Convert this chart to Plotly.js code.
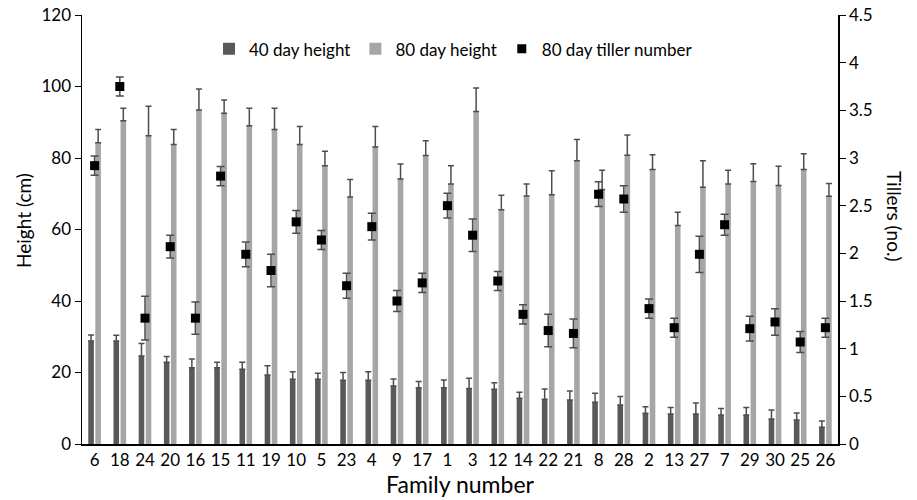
<!DOCTYPE html>
<html>
<head>
<meta charset="utf-8">
<script src="https://cdn.plot.ly/plotly-3.0.1.min.js"></script>
<style>html,body{margin:0;padding:0;background:#fff;}#chart{width:917px;height:500px;}</style>
</head>
<body>
<div id="chart"></div>
<script>
const families = ["6","18","24","20","16","15","11","19","10","5","23","4","9","17","1","3","12","14","22","21","8","28","2","13","27","7","29","30","25","26"];
const height40 = [28.8,28.8,24.6,22.9,21.3,21.3,20.9,19.3,18.1,18.1,17.8,17.8,16.2,15.7,15.7,15.5,15.3,12.8,12.5,12.3,11.7,10.9,8.6,8.4,8.4,8.1,8.1,7.0,6.7,4.7];
const height40Err = [1.7,1.6,3.5,1.6,2.5,1.6,2.0,2.6,2.1,1.7,2.2,2.4,2.0,1.8,2.2,2.9,1.8,1.7,2.9,2.5,2.5,2.4,1.8,1.8,3.1,1.8,2.1,2.5,2.0,1.7];
const height80 = [84.3,90.4,86.2,83.8,93.4,92.5,89.0,88.0,83.8,77.8,69.1,83.1,74.1,80.7,72.7,93.0,65.5,69.4,69.7,79.2,71.2,80.8,76.8,61.1,71.8,72.7,73.4,72.3,76.8,69.3];
const height80Err = [3.7,3.5,8.3,4.2,5.9,3.7,4.9,5.9,5.0,4.1,4.9,5.7,4.2,4.1,5.1,6.6,4.1,3.3,6.7,6.0,5.4,5.6,4.1,3.7,7.4,3.9,5.0,5.4,4.4,3.6];
const tillers = [2.92,3.75,1.32,2.07,1.32,2.81,1.99,1.82,2.33,2.14,1.66,2.28,1.50,1.69,2.50,2.19,1.71,1.36,1.19,1.16,2.62,2.57,1.42,1.22,1.99,2.30,1.21,1.28,1.07,1.22];
const tillersErr = [0.10,0.10,0.23,0.12,0.17,0.10,0.13,0.17,0.12,0.10,0.13,0.14,0.11,0.10,0.13,0.17,0.10,0.10,0.17,0.15,0.13,0.14,0.10,0.10,0.19,0.11,0.13,0.14,0.11,0.10];
const leftTicks = [0,20,40,60,80,100,120];
const rightTicks = [0,0.5,1,1.5,2,2.5,3,3.5,4,4.5];

const FONT = "Lato, 'Open Sans', sans-serif";
const zeros = families.map(() => 0);

const traces = [
  {
    type: 'bar', name: '40 day height', x: families, y: height40,
    marker: {color: '#595959'},
    error_y: {type: 'data', array: height40Err, arrayminus: zeros, symmetric: false, color: '#4d4d4d', thickness: 1.5, width: 3}
  },
  {
    type: 'bar', name: '80 day height', x: families, y: height80,
    marker: {color: '#a6a6a6'},
    error_y: {type: 'data', array: height80Err, arrayminus: zeros, symmetric: false, color: '#4d4d4d', thickness: 1.5, width: 3}
  },
  {
    type: 'scatter', mode: 'markers', name: '80 day tiller number', x: families, y: tillers, yaxis: 'y2',
    marker: {symbol: 'square', size: 9, color: '#000000'},
    error_y: {type: 'data', array: tillersErr, color: '#4d4d4d', thickness: 1.5, width: 4}
  }
];

const layout = {
  width: 917, height: 500,
  margin: {l: 82, r: 79, t: 15, b: 56},
  paper_bgcolor: '#fff', plot_bgcolor: '#fff',
  font: {family: FONT, size: 16, color: '#000'},
  barmode: 'group', bargap: 0.44, bargroupgap: 0.21,
  showlegend: true,
  legend: {orientation: 'h', x: 0.168, xanchor: 'left', y: 0.92, yanchor: 'middle', font: {family: FONT, size: 17, color: '#000'}, bgcolor: 'rgba(0,0,0,0)', traceorder: 'normal'},
  xaxis: {
    type: 'category', categoryorder: 'array', categoryarray: families,
    range: [-0.5, families.length - 0.5],
    showline: true, linecolor: '#000', linewidth: 1.5, ticks: '', showgrid: false, zeroline: false,
    tickfont: {family: FONT, size: 17, color: '#000'},
    title: {text: 'Family number', font: {family: FONT, size: 23, color: '#000'}, standoff: 6}
  },
  yaxis: {
    range: [0, 120], tickvals: leftTicks, ticktext: leftTicks.map(String),
    showline: true, linecolor: '#000', linewidth: 1.5, ticks: 'outside', ticklen: 6, tickcolor: '#000',
    showgrid: false, zeroline: false,
    tickfont: {family: FONT, size: 17, color: '#000'}
  },
  yaxis2: {
    overlaying: 'y', side: 'right', range: [0, 4.5], tickvals: rightTicks, ticktext: rightTicks.map(String),
    showline: true, linecolor: '#000', linewidth: 1.5, ticks: 'outside', ticklen: 6, tickcolor: '#000',
    showgrid: false, zeroline: false,
    tickfont: {family: FONT, size: 17, color: '#000'}
  },
  annotations: [
    {text: 'Height (cm)', textangle: -90, xref: 'paper', yref: 'paper', x: -0.0767, y: 0.52, xanchor: 'center', yanchor: 'middle', showarrow: false, font: {family: FONT, size: 19, color: '#000'}},
    {text: 'Tillers (no.)', textangle: 90, xref: 'paper', yref: 'paper', x: 1.075, y: 0.53, xanchor: 'center', yanchor: 'middle', showarrow: false, font: {family: FONT, size: 19, color: '#000'}}
  ]
};

Plotly.newPlot('chart', traces, layout, {displayModeBar: false, staticPlot: true});
</script>
</body>
</html>
